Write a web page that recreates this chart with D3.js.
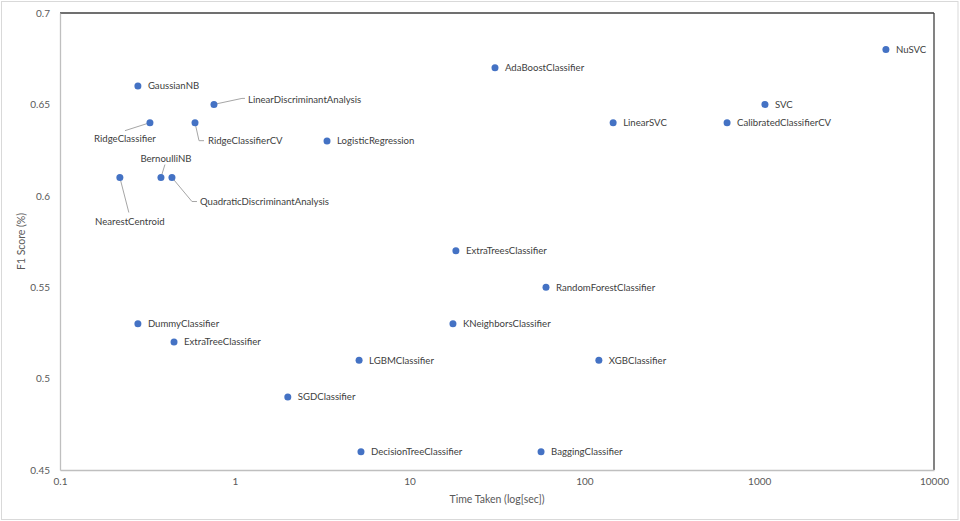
<!DOCTYPE html>
<html><head><meta charset="utf-8">
<script src="https://cdn.jsdelivr.net/npm/d3@7/dist/d3.min.js"></script>
<style>
html,body{margin:0;padding:0;background:#fff;}
svg{display:block;font-family:Lato,"Open Sans",sans-serif;}
</style></head>
<body>
<svg id="chart" width="960" height="521"></svg>
<script>
const models = ["GaussianNB","LinearDiscriminantAnalysis","RidgeClassifier","RidgeClassifierCV","BernoulliNB","QuadraticDiscriminantAnalysis","NearestCentroid","LogisticRegression","AdaBoostClassifier","LinearSVC","SVC","CalibratedClassifierCV","NuSVC","ExtraTreesClassifier","RandomForestClassifier","KNeighborsClassifier","LGBMClassifier","XGBClassifier","DecisionTreeClassifier","BaggingClassifier","DummyClassifier","ExtraTreeClassifier","SGDClassifier"];
const timeTaken = [0.279,0.76,0.327,0.592,0.378,0.437,0.220,3.37,30.8,146,1079,655,5308,18.4,60.3,17.7,5.14,121,5.27,56.5,0.279,0.449,2.01];
const f1Score = [0.66,0.65,0.64,0.64,0.61,0.61,0.61,0.63,0.67,0.64,0.65,0.64,0.68,0.57,0.55,0.53,0.51,0.51,0.46,0.46,0.53,0.52,0.49];
const xTicks = [0.1,1,10,100,1000,10000];
const xTickLabels = ["0.1","1","10","100","1000","10000"];
const yTicks = [0.45,0.5,0.55,0.6,0.65,0.7];
const yTickLabels = ["0.45","0.5","0.55","0.6","0.65","0.7"];

// label layout (offsets relative to the point, leader line bends)
const labelLayout = {
  "LinearDiscriminantAnalysis": {dx:34, dy:-5, anchor:"start", line:[[28,-6],[31,-6]]},
  "RidgeClassifier": {dx:-25, dy:16, anchor:"middle", line:[[-25,8]]},
  "RidgeClassifierCV": {dx:13, dy:18, anchor:"start", line:[[4,18],[9,18]]},
  "BernoulliNB": {dx:5, dy:-19, anchor:"middle", line:[[4,-13]]},
  "QuadraticDiscriminantAnalysis": {dx:28, dy:24, anchor:"start", line:[[20,24],[25,24]]},
  "NearestCentroid": {dx:10, dy:44, anchor:"middle", line:[[9,35]]}
};

const svg = d3.select("#chart");
const W = 960, H = 521;
const m = {left:60, right:26, top:13, bottom:51};
const x = d3.scaleLog().domain([0.1,10000]).range([m.left, W-m.right]);
const y = d3.scaleLinear().domain([0.45,0.7]).range([H-m.bottom, m.top]);

// outer border
svg.append("rect").attr("x",1.5).attr("y",1.5).attr("width",W-3.5).attr("height",H-3)
  .attr("fill","#fff").attr("stroke","#d9d9d9").attr("stroke-width",1);

// plot border: top & right dark, left & bottom light
const x0 = x(0.1), x1 = x(10000), y0 = y(0.45), y1 = y(0.7);
svg.append("line").attr("x1",x0).attr("x2",x1).attr("y1",y1).attr("y2",y1).attr("stroke","#404040").attr("stroke-width",1.3);
svg.append("line").attr("x1",x1).attr("x2",x1).attr("y1",y1).attr("y2",y0).attr("stroke","#404040").attr("stroke-width",1.3);

const xAxis = d3.axisBottom(x).tickValues(xTicks).tickFormat((d,i)=>xTickLabels[i]).tickSize(0).tickPadding(8);
const gx = svg.append("g").attr("transform",`translate(0,${y0})`).call(xAxis);
gx.select(".domain").attr("stroke","#bfbfbf").attr("stroke-width",1.3);
gx.selectAll("text").attr("fill","#595959").style("font-size","10px").style("font-family","Lato,sans-serif");

const yAxis = d3.axisLeft(y).tickValues(yTicks).tickFormat((d,i)=>yTickLabels[i]).tickSize(0).tickPadding(10);
const gy = svg.append("g").attr("transform",`translate(${x0},0)`).call(yAxis);
gy.select(".domain").attr("stroke","#bfbfbf").attr("stroke-width",1.3);
gy.selectAll("text").attr("fill","#595959").style("font-size","10px").style("font-family","Lato,sans-serif");

// axis titles
svg.append("text").attr("x",(x0+x1)/2).attr("y",503).attr("text-anchor","middle")
  .attr("fill","#595959").style("font-size","10.5px").text("Time Taken (log[sec])");
svg.append("text").attr("transform",`translate(25,${(y0+y1)/2}) rotate(-90)`).attr("text-anchor","middle")
  .attr("fill","#595959").style("font-size","10.5px").text("F1 Score (%)");

const data = models.map((n,i)=>({name:n, t:timeTaken[i], f:f1Score[i]}));

// leader lines
data.forEach(d=>{
  const L = labelLayout[d.name];
  if(!L) return;
  const px = x(d.t), py = y(d.f);
  const pts = [[px,py]].concat(L.line.map(p=>[px+p[0],py+p[1]]));
  svg.append("path").attr("d",d3.line()(pts)).attr("fill","none").attr("stroke","#a6a6a6").attr("stroke-width",1);
});

// points
svg.append("g").selectAll("circle").data(data).join("circle")
  .attr("cx",d=>x(d.t)).attr("cy",d=>y(d.f)).attr("r",3.5).attr("fill","#4472C4");

// labels
svg.append("g").selectAll("text").data(data).join("text")
  .attr("x",d=>x(d.t)+(labelLayout[d.name]?labelLayout[d.name].dx:10))
  .attr("y",d=>y(d.f)+(labelLayout[d.name]?labelLayout[d.name].dy:0))
  .attr("dy","0.35em")
  .attr("text-anchor",d=>labelLayout[d.name]?labelLayout[d.name].anchor:"start")
  .attr("fill","#404040").style("font-size","9.6px")
  .text(d=>d.name);
</script>
</body></html>
